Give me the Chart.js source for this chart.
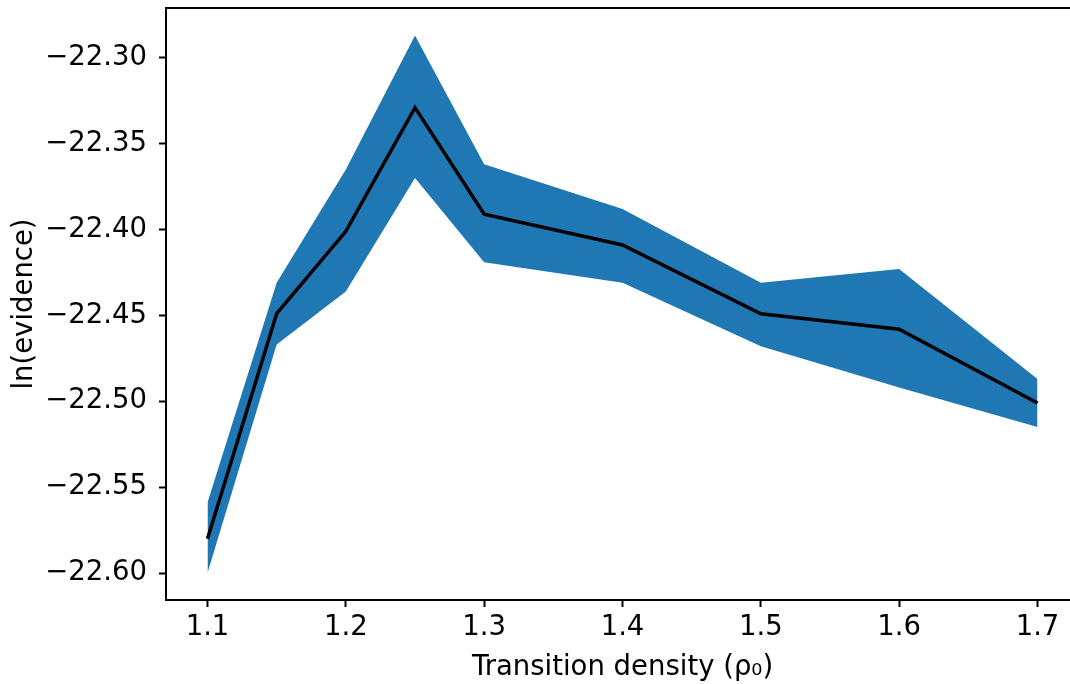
<!DOCTYPE html>
<html>
<head>
<meta charset="utf-8">
<script src="https://cdn.jsdelivr.net/npm/chart.js@4"></script>
<style>
  html, body { margin: 0; padding: 0; overflow: hidden; background: #fff; }
  #wrap { width: 1090px; height: 684px; }
</style>
</head>
<body>
<div id="wrap"><canvas id="mychart" width="1090" height="684"></canvas></div>
<script>
const ctx = document.getElementById("mychart").getContext("2d");

const density = [1.1, 1.15, 1.2, 1.25, 1.3, 1.4, 1.5, 1.6, 1.7];
const meanEvidence = [-22.580, -22.449, -22.401, -22.329, -22.391, -22.409, -22.449, -22.458, -22.501];
const upperEvidence = [-22.559, -22.431, -22.365, -22.287, -22.362, -22.388, -22.431, -22.423, -22.487];
const lowerEvidence = [-22.600, -22.467, -22.436, -22.370, -22.419, -22.431, -22.468, -22.492, -22.515];
const xTicks = [1.1, 1.2, 1.3, 1.4, 1.5, 1.6, 1.7];
const yTicks = [-22.60, -22.55, -22.50, -22.45, -22.40, -22.35, -22.30];

const pts = (ys) => density.map((x, i) => ({ x: x, y: ys[i] }));

const font = { family: "DejaVu Sans", size: 27.5 };

// top spine like matplotlib (the right one would fall off the page)
const frame = {
  id: "frame",
  afterDraw(chart) {
    const a = chart.chartArea;
    const c = chart.ctx;
    c.save();
    c.strokeStyle = "#000";
    c.lineWidth = 2;
    c.beginPath();
    c.moveTo(a.left, a.top);
    c.lineTo(a.right, a.top);
    c.stroke();
    c.restore();
  },
};

const noPad = (s) => {
  s.paddingTop = 0;
  s.paddingBottom = 0;
  s.paddingLeft = 0;
  s.paddingRight = 0;
};

const config = {
  type: "line",
  data: {
    datasets: [
      {
        data: pts(meanEvidence),
        borderColor: "#000",
        borderWidth: 3.5,
        pointRadius: 0,
        fill: false,
        order: 0,
      },
      {
        data: pts(upperEvidence),
        borderWidth: 0,
        borderColor: "#1f77b4",
        backgroundColor: "#1f77b4",
        pointRadius: 0,
        fill: "+1",
        order: 1,
      },
      {
        data: pts(lowerEvidence),
        borderWidth: 0,
        borderColor: "#1f77b4",
        pointRadius: 0,
        fill: false,
        order: 2,
      },
    ],
  },
  options: {
    responsive: false,
    animation: false,
    layout: { padding: { top: 8, right: 11, left: 0, bottom: 0 } },
    plugins: { legend: { display: false }, tooltip: { enabled: false } },
    scales: {
      x: {
        type: "linear",
        min: 1.07,
        max: 1.73,
        afterFit: (s) => { s.height = 84; noPad(s); },
        afterBuildTicks: (s) => { s.ticks = xTicks.map((v) => ({ value: v })); },
        ticks: {
          color: "#000",
          font: font,
          padding: 4,
          maxRotation: 0,
          callback: (v) => v.toFixed(1),
        },
        grid: { drawOnChartArea: false, tickLength: 7, tickWidth: 2, tickColor: "#000" },
        border: { color: "#000", width: 2 },
        title: {
          display: true,
          text: "Transition density (ρ₀)",
          color: "#000",
          font: font,
          padding: { top: 4, bottom: 0 },
        },
      },
      y: {
        type: "linear",
        min: -22.6157,
        max: -22.271,
        afterFit: (s) => { s.width = 166; noPad(s); },
        afterBuildTicks: (s) => { s.ticks = yTicks.map((v) => ({ value: v })); },
        ticks: {
          color: "#000",
          font: font,
          padding: 12,
          callback: (v) => "\u2212" + Math.abs(v).toFixed(2),
        },
        grid: { drawOnChartArea: false, tickLength: 7, tickWidth: 2, tickColor: "#000" },
        border: { color: "#000", width: 2 },
        title: {
          display: true,
          text: "ln(evidence)",
          color: "#000",
          font: font,
          padding: { top: 8, bottom: 4 },
        },
      },
    },
  },
  plugins: [frame],
};

const myChart = new Chart(ctx, config);
</script>
</body>
</html>
